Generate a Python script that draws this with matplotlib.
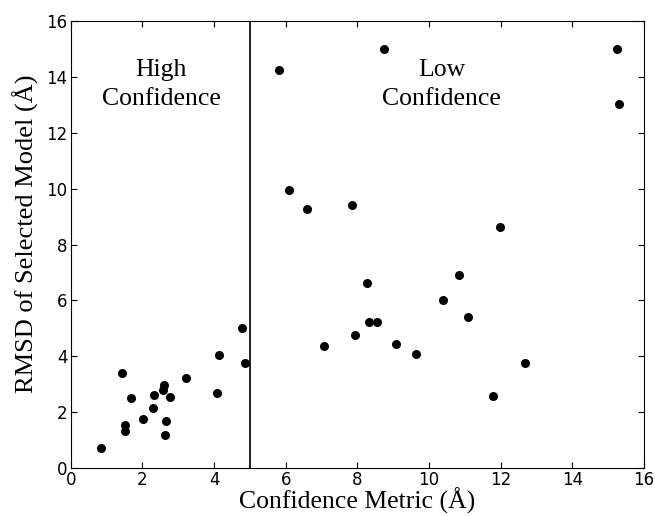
import matplotlib
matplotlib.use("Agg")
import matplotlib.pyplot as plt

# confidence metric (x) and RMSD of selected model (y), both in Angstrom
conf_metric = [0.85, 1.43, 1.52, 1.52, 1.68, 2.02, 2.31, 2.33, 2.60, 2.57,
               2.76, 2.65, 2.64, 3.23, 4.08, 4.13, 4.79, 4.87,
               5.81, 6.09, 6.59, 7.86, 8.27, 8.32, 8.55, 7.94, 7.07, 9.07,
               9.63, 8.75, 11.99, 10.84, 10.40, 11.10, 12.69, 11.80, 15.25, 15.31]
rmsd = [0.71, 3.41, 1.54, 1.32, 2.49, 1.75, 2.13, 2.59, 2.97, 2.80,
        2.54, 1.68, 1.18, 3.20, 2.67, 4.04, 5.00, 3.74,
        14.27, 9.96, 9.26, 9.40, 6.63, 5.22, 5.24, 4.74, 4.36, 4.44,
        4.06, 15.02, 8.64, 6.89, 6.01, 5.40, 3.77, 2.57, 15.02, 13.04]
cutoff = 5
ticks = [0, 2, 4, 6, 8, 10, 12, 14, 16]

fig = plt.figure(figsize=(6.55, 5.16), dpi=100)
ax = fig.add_axes([0.108, 0.0936, 0.875, 0.865])

ax.scatter(conf_metric, rmsd, s=30, c="black", edgecolors="black", zorder=3)
ax.axvline(cutoff, color="#222222", lw=1.4)

ax.set_xlim(0, 16)
ax.set_ylim(0, 16)
ax.set_xticks(ticks)
ax.set_yticks(ticks)
ax.tick_params(direction="in", top=True, right=True, length=4, labelsize=12, pad=2.5)

serif = "Liberation Serif"
ax.set_xlabel("Confidence Metric (Å)", fontsize=18.5, family=serif, labelpad=-1)
ax.set_ylabel("RMSD of Selected Model (Å)", fontsize=19, family=serif, labelpad=5)
ax.yaxis.label.set_y(0.525)
ax.text(2.52, 13.74, "High\nConfidence", ha="center", va="center",
        fontsize=18.5, family=serif, linespacing=1.45)
ax.text(10.36, 13.74, "Low\nConfidence", ha="center", va="center",
        fontsize=18.5, family=serif, linespacing=1.45)

fig.savefig("out.png", dpi=100)
plt.close(fig)
